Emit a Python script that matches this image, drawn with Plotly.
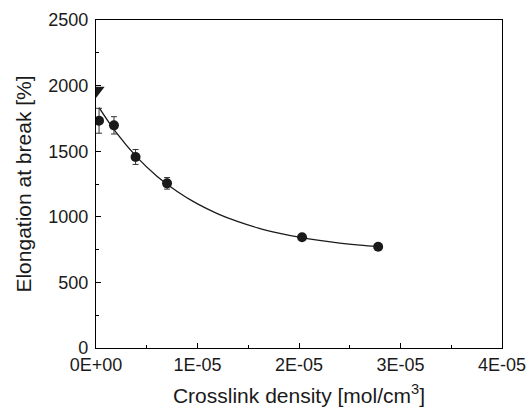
import plotly.graph_objects as go

# measured data
density = [3.0e-7, 1.77e-6, 3.9e-6, 7.0e-6, 2.03e-5, 2.78e-5]
elongation = [1732, 1697, 1456, 1255, 844, 772]
err = [95, 66, 57, 44, 0, 0]

# reference (uncrosslinked) point
ref_x = [0.0]
ref_y = [1962]

# fitted curve
fit_x = [3.0e-7, 2e-6, 4e-6, 6e-6, 8e-6, 10e-6, 12e-6, 14e-6, 16e-6, 18e-6, 20e-6, 22e-6, 24e-6, 26e-6, 27.8e-6]
fit_y = [1832, 1641, 1457, 1310, 1193, 1098, 1023, 963, 914, 876, 845, 820, 800, 784, 772]

xtick_vals = [0, 1e-5, 2e-5, 3e-5, 4e-5]
xtick_text = ["0E+00", "1E-05", "2E-05", "3E-05", "4E-05"]
ytick_vals = [0, 500, 1000, 1500, 2000, 2500]

FONT = "Liberation Sans, Arial, sans-serif"

fig = go.Figure()
fig.add_trace(go.Scatter(x=fit_x, y=fit_y, mode="lines",
                         line=dict(color="#1a1a1a", width=1.3, shape="spline"),
                         showlegend=False, hoverinfo="skip"))
fig.add_trace(go.Scatter(x=density, y=elongation, mode="markers",
                         marker=dict(symbol="circle", size=10, color="#1a1a1a"),
                         error_y=dict(type="data", array=err, visible=True,
                                      color="#333333", thickness=1, width=3),
                         showlegend=False))
fig.add_trace(go.Scatter(x=ref_x, y=ref_y, mode="markers",
                         marker=dict(symbol="triangle-down", size=15, color="#1a1a1a"),
                         showlegend=False))

axis_common = dict(showline=True, linecolor="black", linewidth=1.2, mirror=True,
                   ticks="inside", ticklen=5, tickcolor="black", tickwidth=1,
                   showgrid=False, zeroline=False, automargin=False,
                   tickfont=dict(family=FONT, size=18, color="#1a1a1a"))

fig.update_xaxes(range=[0, 4e-5], tickmode="array", tickvals=xtick_vals, ticktext=xtick_text,
                 minor=dict(ticks="inside", ticklen=3, dtick=5e-6, tickcolor="black"),
                 ticklabelstandoff=0,
                 title=dict(text="Crosslink density [mol/cm<sup>3</sup>]",
                            font=dict(family=FONT, size=21, color="#1a1a1a"), standoff=14),
                 **axis_common)
fig.update_yaxes(range=[0, 2500], tickmode="array", tickvals=ytick_vals,
                 minor=dict(ticks="inside", ticklen=3, dtick=250, tickcolor="black"),
                 ticklabelstandoff=3,
                 title=dict(text="Elongation at break [%]",
                            font=dict(family=FONT, size=21, color="#1a1a1a"), standoff=10),
                 **axis_common)

fig.update_layout(width=529, height=409, margin=dict(l=96, r=27, t=20, b=61),
                  plot_bgcolor="white", paper_bgcolor="white")

fig.write_html("out.html")
